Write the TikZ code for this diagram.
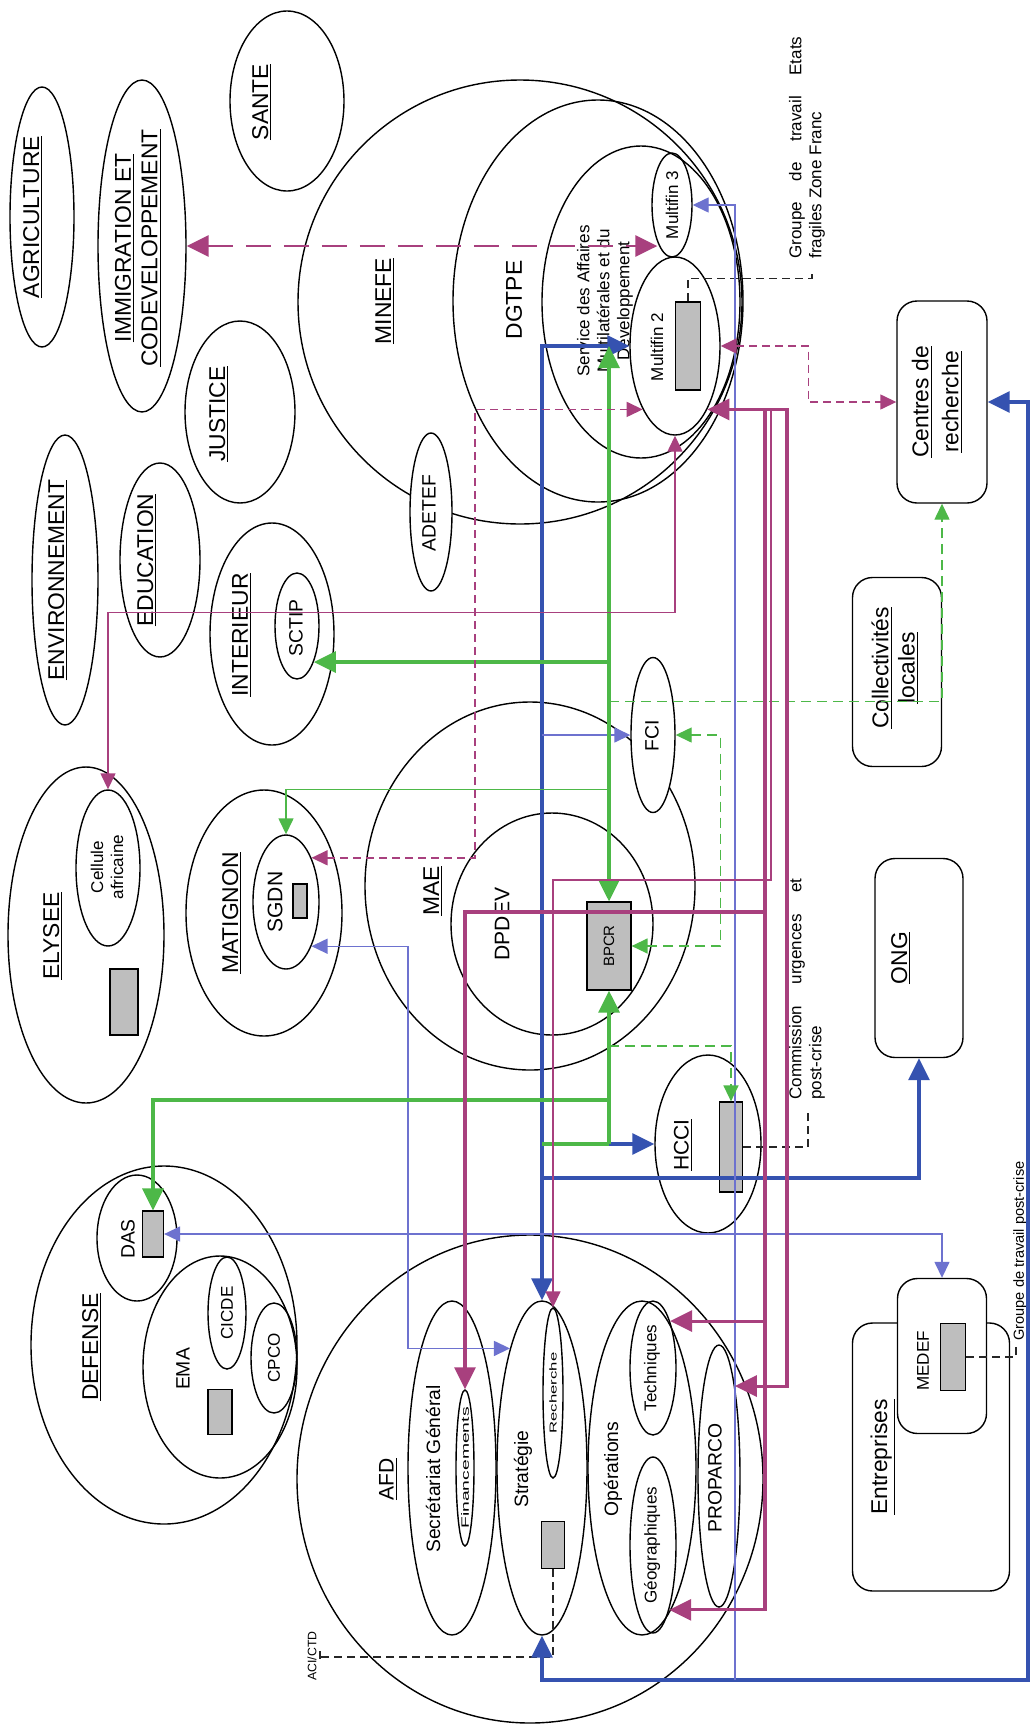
\documentclass[tikz,border=0pt]{standalone}
\usepackage{fontspec}
\setmainfont{Liberation Sans}
\usepackage{graphicx}
\usetikzlibrary{shapes.geometric, arrows.meta, positioning, calc}
\definecolor{linkpink}{HTML}{A8407E}
\definecolor{linkblue}{HTML}{3552B0}
\definecolor{lightlink}{HTML}{6D72CF}
\definecolor{linkgreen}{HTML}{4DB848}
\definecolor{boxgray}{HTML}{BEBEBE}

\tikzset{
  ell/.style 2 args={ellipse, draw, line width=0.8pt, inner sep=0pt,
    minimum width=#1*0.2mm, minimum height=#2*0.2mm},
  rbox/.style 2 args={rectangle, draw, rounded corners=4mm, line width=0.8pt,
    inner sep=0pt, minimum width=#1*0.2mm, minimum height=#2*0.2mm},
  gbox/.style 2 args={rectangle, draw, fill=boxgray, line width=0.7pt,
    inner sep=0pt, minimum width=#1*0.2mm, minimum height=#2*0.2mm},
  bigtxt/.style={rotate=90, inner sep=0pt, align=center, font=\fontsize{13}{15}\selectfont},
  medtxt/.style={rotate=90, inner sep=0pt, align=center, font=\fontsize{12}{14}\selectfont},
  midtxt/.style={rotate=90, inner sep=0pt, align=center, font=\fontsize{11}{13}\selectfont},
  smalltxt/.style={rotate=90, inner sep=0pt, align=center, font=\fontsize{9.7}{11.4}\selectfont},
  bigtip/.style={>={Triangle[length=4.4mm, width=4.2mm]}},
  smalltip/.style={>={Triangle[length=3.2mm, width=3mm]}},
  thickblue/.style={bigtip, draw=linkblue, line width=1.8pt},
  thinblue/.style={smalltip, draw=lightlink, line width=0.8pt},
  thickgreen/.style={bigtip, draw=linkgreen, line width=1.8pt},
  thingreen/.style={smalltip, draw=linkgreen, line width=0.8pt},
  dashgreen/.style={smalltip, draw=linkgreen, line width=0.8pt, dash pattern=on 2mm off 1.2mm},
  thickpink/.style={bigtip, draw=linkpink, line width=1.8pt},
  thinpink/.style={smalltip, draw=linkpink, line width=0.8pt},
  dashpinkthick/.style={bigtip, draw=linkpink, line width=1.7pt, dash pattern=on 5mm off 2.6mm},
  dashpinkthin/.style={smalltip, draw=linkpink, line width=0.8pt, dash pattern=on 1.6mm off 1mm},
  blackdash/.style={draw=black!85, line width=0.8pt, dash pattern=on 1.6mm off 1mm}
}

\begin{document}
\begin{tikzpicture}[x=0.2mm, y=-0.2mm]
    \fill[white] (0,0) rectangle (1031,1728);
    \useasboundingbox (0,0) rectangle (1031,1728);

    % Ministries and services
    \node[ell={64}{260}] (agri) at (42,217) {};
    \node[ell={88}{332}] (immi) at (142,246) {};
    \node[ell={114}{180}] (sante) at (287,101) {};
    \node[ell={110}{182}] (justice) at (240,412) {};
    \node[ell={66}{290}] (envir) at (65,580) {};
    \node[ell={80}{194}] (educ) at (160,560) {};
    \node[ell={124}{222}] (inter) at (272,634) {};
    \node[ell={44}{106}] (sctip) at (297,626) {};
    \node[ell={444}{444}] (minefe) at (520,302) {};
    \node[ell={290}{402}] (dgtpe) at (598,301) {};
    \node[ell={198}{312}] (service) at (641,302) {};
    \node[ell={40}{104}] (mf3) at (672,205) {};
    \node[ell={90}{178}] (mf2) at (675,346) {};
    \node[gbox={25}{88}] (mf2box) at (688,346) {};
    \node[ell={42}{158}, fill=white] (adetef) at (431,512) {};
    \node[rbox={90}{202}] (centres) at (942,402) {};
    \node[rbox={89}{189}] (collect) at (897,672) {};
    \node[rbox={88}{199}] (ong) at (919,958) {};
    \node[ell={156}{336}] (elysee) at (86,935) {};
    \node[ell={64}{156}] (cellule) at (108,868) {};
    \node[gbox={28}{66}] (elybox) at (124,1002) {};
    \node[ell={156}{246}] (matignon) at (264,913) {};
    \node[ell={66}{134}] (sgdn) at (286,902) {};
    \node[gbox={14}{34}] (sgdnbox) at (300,901) {};
    \node[ell={330}{368}] (mae) at (530,886) {};
    \node[ell={202}{222}] (dpdev) at (552,924) {};
    \node[gbox={44}{88}] (bpcr) at (609,946) {};
    \node[ell={44}{155}, fill=white] (fci) at (653,735) {};
    \node[ell={106}{178}] (hcci) at (708,1144) {};
    \node[gbox={23}{90}] (hccibox) at (731,1147) {};
    \node[ell={266}{358}] (defense) at (164,1345) {};
    \node[ell={80}{126}] (das) at (137,1238) {};
    \node[gbox={21}{46}] (dasbox) at (153,1234) {};
    \node[ell={154}{222}] (ema) at (220,1367) {};
    \node[gbox={24}{45}] (emabox) at (220,1412) {};
    \node[ell={38}{112}] (cicde) at (227,1313) {};
    \node[ell={46}{110}] (cpco) at (274,1358) {};
    \node[ell={466}{488}] (afd) at (530,1479) {};
    \node[ell={88}{334}] (secgen) at (452,1468) {};
    \node[ell={18}{156}] (financ) at (465,1468) {};
    \node[ell={90}{334}] (strat) at (542,1468) {};
    \node[ell={20}{170}] (rech) at (553,1393) {};
    \node[gbox={23}{47}] (stratbox) at (553,1545) {};
    \node[ell={108}{334}] (oper) at (642,1468) {};
    \node[ell={46}{134}] (tech) at (653,1368) {};
    \node[ell={46}{176}] (geo) at (653,1545) {};
    \node[ell={42}{262}] (proparco) at (719,1476) {};
    \node[rbox={157}{268}] (entrep) at (931,1457) {};
    \node[rbox={89}{155}, fill=white] (medef) at (942,1356) {};
    \node[gbox={25}{67}] (medefbox) at (953,1357) {};

    % Labels
    \node[bigtxt] (agriL) at (33,217) {\underline{AGRICULTURE}};
    \node[bigtxt] (immiL) at (138,248) {\underline{IMMIGRATION ET}\\\underline{CODEVELOPPEMENT}};
    \node[bigtxt] (santeL) at (262,102) {\underline{SANTE}};
    \node[bigtxt] (justiceL) at (219,414) {\underline{JUSTICE}};
    \node[bigtxt] (envirL) at (58,580) {\underline{ENVIRONNEMENT}};
    \node[bigtxt] (educL) at (147,560) {\underline{EDUCATION}};
    \node[bigtxt] (interL) at (242,635) {\underline{INTERIEUR}};
    \node[midtxt] (sctipL) at (296,628) {SCTIP};
    \node[bigtxt] (minefeL) at (385,301) {\underline{MINEFE}};
    \node[bigtxt] (dgtpeL) at (514,300) {DGTPE};
    \node[smalltxt] (serviceL) at (605,301) {Service des Affaires\\Multilatérales et du\\Développement};
    \node[smalltxt] (mf3L) at (672,205) {Multifin 3};
    \node[smalltxt] (mf2L) at (657,347) {Multifin 2};
    \node[midtxt] (adetefL) at (429,513) {ADETEF};
    \node[smalltxt, anchor=west, align=left] (grpL) at (807,259)
        {\makebox[44.4mm][s]{Groupe de travail Etats}\\fragiles Zone Franc};
    \node[bigtxt] (centresL) at (937,402) {\underline{Centres de}\\[2pt]\underline{recherche}};
    \node[bigtxt] (collectL) at (895,668) {\underline{Collectivités}\\\underline{locales}};
    \node[bigtxt] (ongL) at (901,958) {\underline{ONG}};
    \node[bigtxt] (elyseeL) at (53,936) {\underline{ELYSEE}};
    \node[smalltxt] (celluleL) at (107,867) {Cellule\\africaine};
    \node[bigtxt] (matignonL) at (232,913) {\underline{MATIGNON}};
    \node[medtxt] (sgdnL) at (275,902) {SGDN};
    \node[bigtxt] (maeL) at (433,891) {\underline{MAE}};
    \node[medtxt] (dpdevL) at (502,924) {DPDEV};
    \node[rotate=90, inner sep=0pt, font=\fontsize{8.5}{10}\selectfont] (bpcrL) at (609,946) {BPCR};
    \node[midtxt] (fciL) at (652,736) {FCI};
    \node[medtxt] (hcciL) at (683,1145) {\underline{HCCI}};
    \node[smalltxt, anchor=west, align=left] (comL) at (807,1100)
        {\makebox[44.2mm][s]{Commission urgences et}\\post-crise};
    \node[bigtxt] (defenseL) at (92,1347) {\underline{DEFENSE}};
    \node[midtxt] (dasL) at (128,1239) {DAS};
    \node[midtxt] (emaL) at (183,1369) {EMA};
    \node[smalltxt] (cicdeL) at (227,1313) {CICDE};
    \node[smalltxt] (cpcoL) at (274,1358) {CPCO};
    \node[medtxt] (afdL) at (388,1479) {\underline{AFD}};
    \node[midtxt] (secgenL) at (433,1469) {Secrétariat Général};
    \node[rotate=90, inner sep=0pt, font=\fontsize{11}{13}\selectfont] (financL) at (465,1468) {\scalebox{1}[0.55]{Financements}};
    \node[midtxt] (stratL) at (523,1469) {Stratégie};
    \node[rotate=90, inner sep=0pt, font=\fontsize{9.5}{11}\selectfont] (rechL) at (553,1393) {\scalebox{1}[0.6]{Recherche}};
    \node[midtxt] (operL) at (613,1469) {Opérations};
    \node[smalltxt] (techL) at (652,1368) {Techniques};
    \node[smalltxt] (geoL) at (652,1545) {Géographiques};
    \node[midtxt] (proparcoL) at (715,1478) {PROPARCO};
    \node[bigtxt] (entrepL) at (883,1457) {\underline{Entreprises}};
    \node[smalltxt] (medefL) at (923,1361) {MEDEF};
    \node[rotate=90, anchor=west, inner sep=0pt, font=\fontsize{8.3}{10}\selectfont] (pcL) at (1020,1341) {Groupe de travail post-crise};
    \node[rotate=90, inner sep=0pt, font=\fontsize{7}{8}\selectfont] (aciL) at (312,1656) {ACI/CTD};

    % Working groups (dashed)
    \draw[blackdash] (mf2box.north) |- ++(124,-23) -- ++(0,-7);
    \draw[blackdash] (hccibox.east) -- ++(65,0) -- ++(0,-39);
    \draw[blackdash] (medefbox.east) -- ++(50,0) -- ++(0,-14);
    \draw[blackdash] (stratbox.south) |- ++(-233,88) ++(0,-6) -- ++(0,12);

    % Blue links
    \draw[thickblue, <->] (mf2.west) -| (strat.north);
    \coordinate (bj) at (542,1178);
    \draw[thickblue, ->] (bj) -| (ong.south);
    \draw[thickblue, ->] (bpcr.south |- hcci.west) -- (hcci.west);
    \coordinate (br) at (1028,1680);
    \draw[thickblue, <->] (strat.south) |- (br) |- (centres.east);
    \coordinate (bt) at (735,1680);
    \draw[thinblue, ->] (bt) |- (mf3.east);
    \draw[thinblue, ->] (strat.north |- fci.west) -- (fci.west);
    \coordinate (bs) at (408,1100);
    \draw[thinblue, <->] (sgdn.-60) -| (bs) |- (strat.105);
    \draw[thinblue, <->] (dasbox.east) -| (medef.north);

    % Green links
    \coordinate (gtop) at (bpcr.north |- mf2.west);
    \draw[thickgreen, <->] (gtop) -- (bpcr.north);
    \draw[thickgreen] (strat.north |- hcci.west) -- (bpcr.south |- hcci.west);
    \draw[thickgreen, ->] (bpcr.south |- hcci.west) -- (bpcr.south);
    \draw[thickgreen, ->] (bpcr.north |- sctip.-65) -- (sctip.-65);
    \draw[thingreen, ->] (bpcr.north |- matignon.north) -| (sgdn.north);
    \coordinate (gd) at (609,1100);
    \draw[thickgreen, ->] (gd) -| (dasbox.north);
    \draw[dashgreen, ->] (bpcr.north |- mae.north) -| (centres.south);
    \draw[dashgreen, <->] (fci.east) -- ++(45,0) |- (bpcr.east);
    \coordinate (gh) at (609,1046);
    \draw[dashgreen, ->] (gh) -| (hccibox.north);

    % Pink links
    \draw[dashpinkthick, <->] (immi.east) -- (immi.east -| mf3.south west);
    \draw[dashpinkthin, <->] (mf2.east) -- ++(88,0) |- (centres.west);
    \coordinate (pv) at (475,600);
    \draw[dashpinkthin, <->] (sgdn.60) -| (pv) |- (mf2.243);
    \draw[thinpink, <->] (mf2.south) -- ++(0,177) -| (cellule.north);
    \coordinate (pr) at (787,800);
    \draw[thickpink, <->] (mf2.-63) -| (pr) |- (proparco.80);
    \coordinate (pt) at (765,409);
    \draw[thickpink, ->] (pt) |- (geo.-76);
    \draw[thickpink, ->] (pt |- tech.70) -- (tech.70);
    \coordinate (pf) at (765,912);
    \draw[thickpink, ->] (pf) -| (financ.north);
    \coordinate (pq) at (771,409);
    \draw[thinpink, ->] (pq) -- ++(0,471) -| (rech.north);
\end{tikzpicture}
\end{document}
